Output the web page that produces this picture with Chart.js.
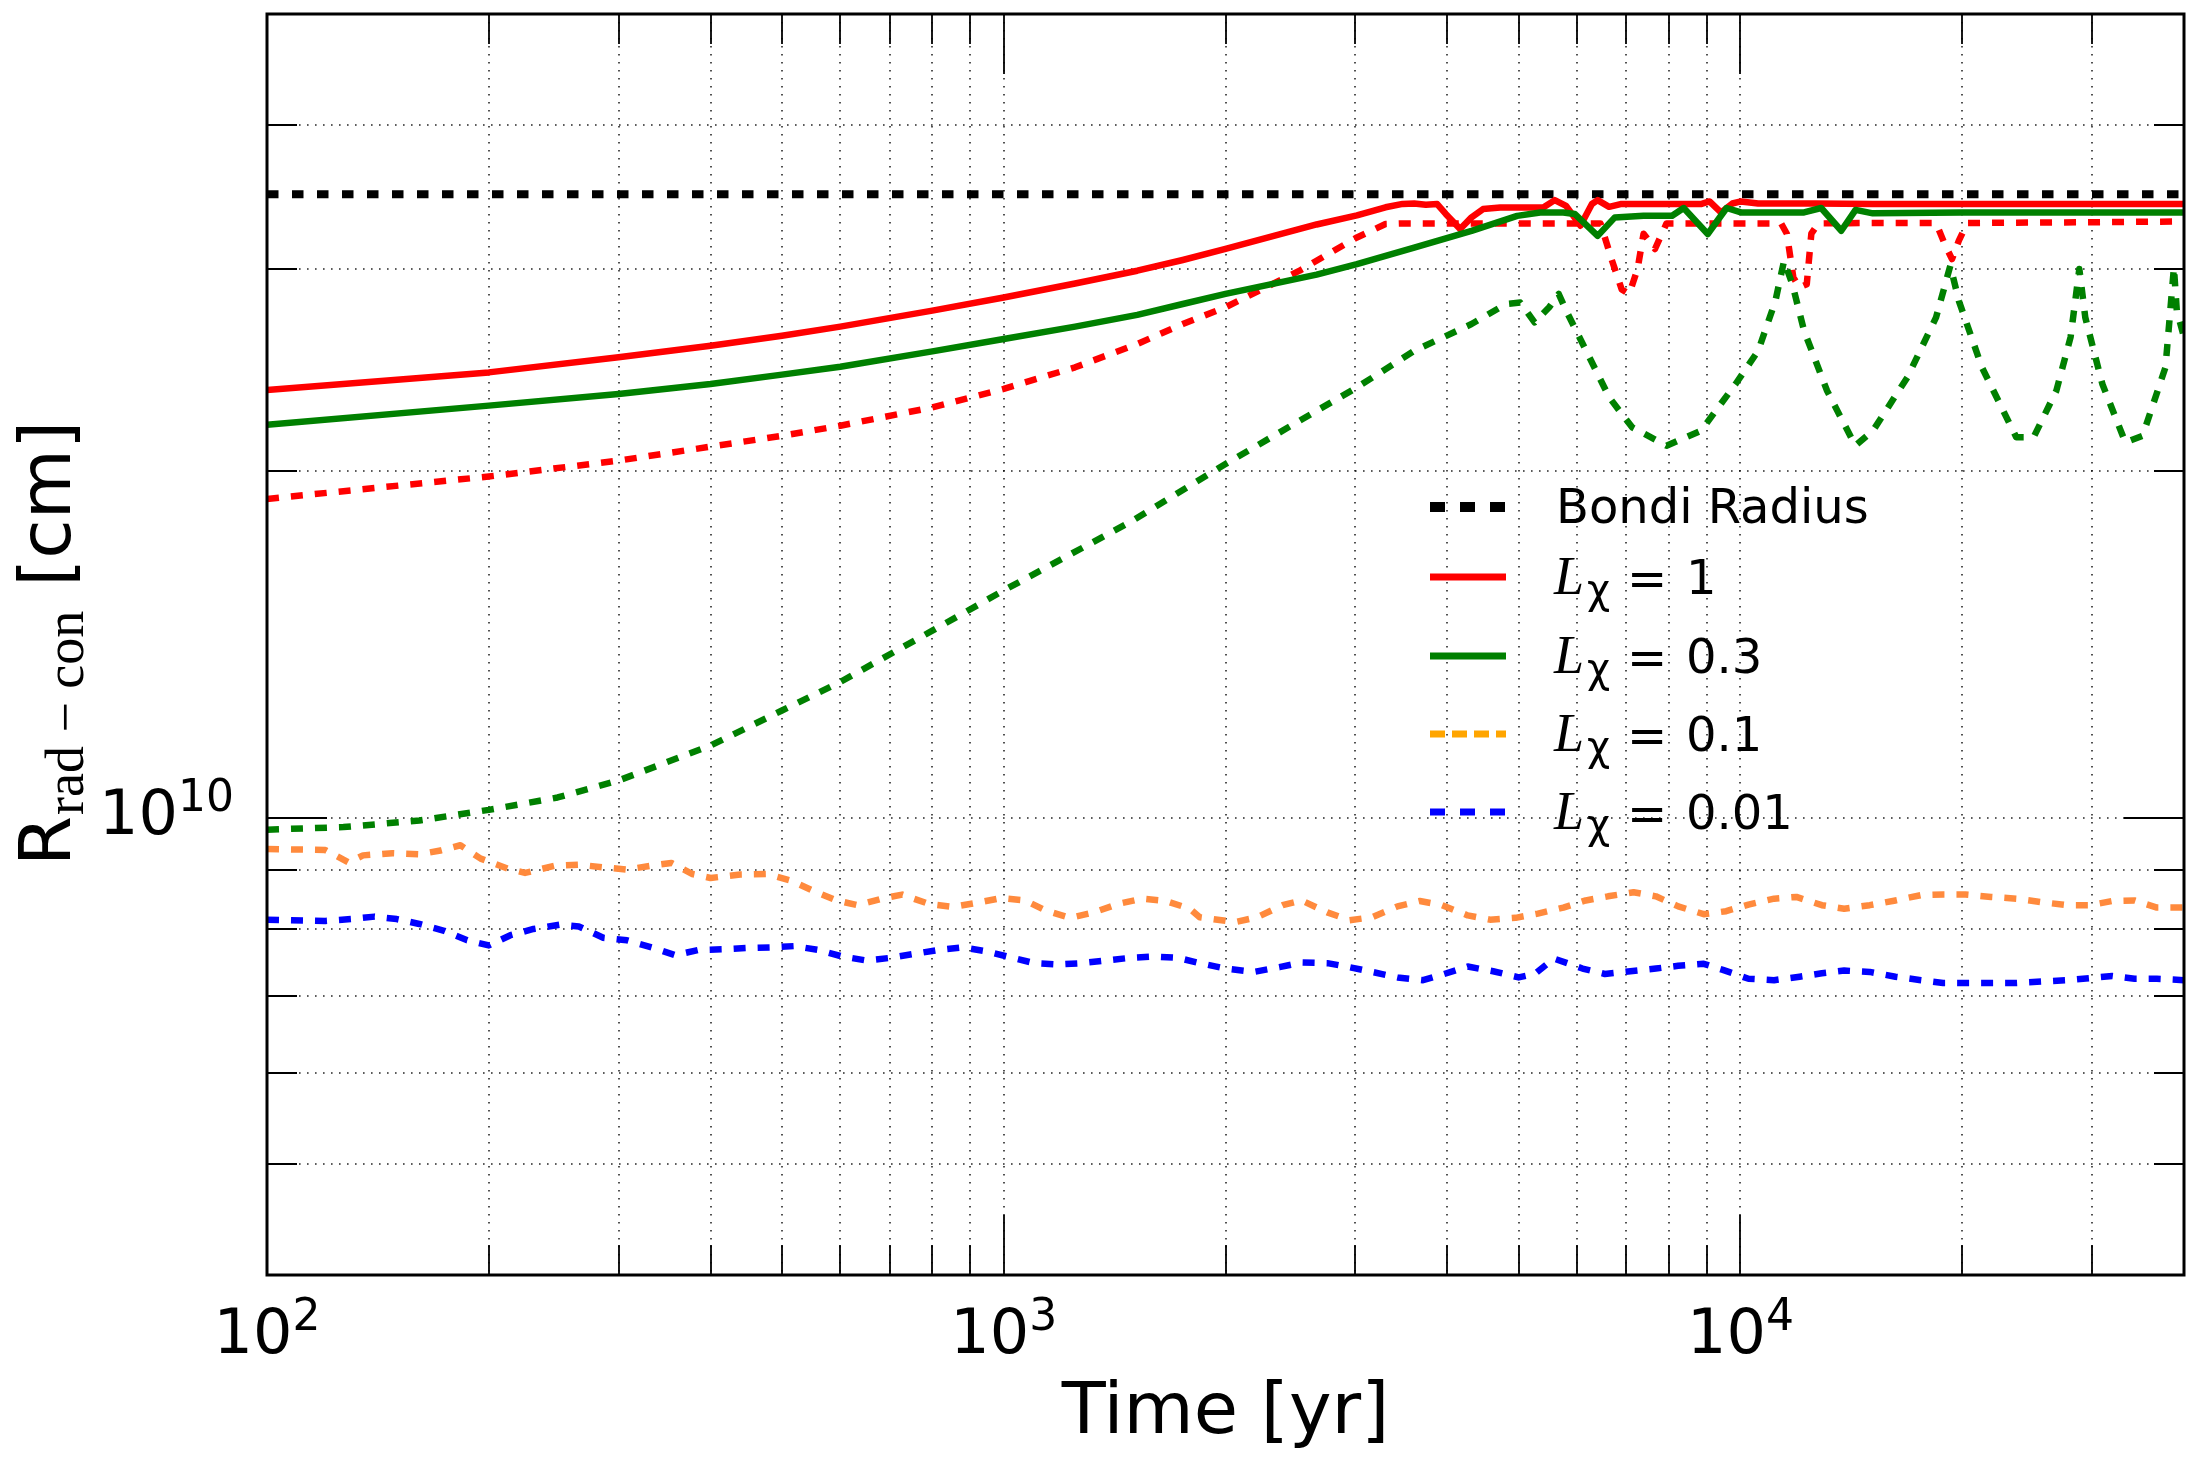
<!DOCTYPE html>
<html>
<head>
<meta charset="utf-8">
<title>Rrad-con vs time</title>
<script src="https://cdn.jsdelivr.net/npm/chart.js@4.4.1/dist/chart.umd.min.js"></script>
<style>
  html, body { margin: 0; padding: 0; background: #fff; }
  canvas { display: block; }
</style>
</head>
<body>
<canvas id="chart" width="2201" height="1463"></canvas>
<script>
// ---------------------------------------------------------------------------
// Data. Time in yr, radii in units of 1e10 cm.
// ---------------------------------------------------------------------------
const timeBondi = [100, 40000];
const rBondi    = [3.485, 3.485];

// L_chi = 1, solid
const timeL1 = [100, 200, 300, 400, 500, 600, 800, 1000, 1250, 1518, 1750, 2000, 2659,
                3016, 3298, 3479, 3607, 3740, 3876, 3981, 4164, 4315, 4473, 4720,
                5162, 5399, 5596, 5799, 6064, 6286, 6400, 6633, 6875, 7386,
                8077, 8835, 9078, 9408, 9750, 10016, 10568, 12643, 15124, 20000, 30000, 40000];
const rL1    = [2.355, 2.439, 2.514, 2.573, 2.625, 2.673, 2.76, 2.834, 2.914, 2.99, 3.055, 3.123, 3.28,
                3.34, 3.395, 3.418, 3.421, 3.412, 3.417, 3.35, 3.25, 3.327, 3.383, 3.394,
                3.394, 3.394, 3.444, 3.405, 3.272, 3.417, 3.444, 3.398, 3.417, 3.417,
                3.417, 3.417, 3.435, 3.36, 3.421, 3.435, 3.421, 3.421, 3.417, 3.417, 3.417, 3.417];

// L_chi = 1, dashed
const timeL1d = [100, 200, 300, 400, 500, 600, 800, 1000, 1250, 1518, 1750, 2000,
                 2521, 2757, 3016, 3298, 3500, 4500, 5500, 6457,
                 6695, 6900, 7063, 7250, 7387, 7656, 7937, 9000, 10000, 11357,
                 11561, 11798, 12020, 12303, 12480, 12758, 15000, 18430,
                 18930, 19370, 19790, 20320, 30000, 40000];
const rL1d    = [1.893, 1.98, 2.044, 2.102, 2.148, 2.192, 2.274, 2.36, 2.464, 2.582, 2.687, 2.779,
                 2.99, 3.092, 3.196, 3.283, 3.287, 3.287, 3.287, 3.287,
                 3.05, 2.88, 2.854, 3.0, 3.22, 3.123, 3.287, 3.287, 3.287, 3.287,
                 3.22, 2.95, 2.891, 2.91, 3.22, 3.287, 3.29, 3.29,
                 3.155, 3.06, 3.176, 3.29, 3.295, 3.3];

// L_chi = 0.3, solid
const timeL03 = [100, 200, 300, 400, 500, 600, 800, 1000, 1250, 1518, 1750, 2000,
                 2659, 3016, 3607, 4315, 4977, 5348, 5749, 5957, 6400, 6753, 7386, 8077,
                 8374, 9028, 9576, 10016, 12200, 12870, 13705, 14330, 15124, 20000, 30000, 40000];
const rL03    = [2.196, 2.282, 2.336, 2.383, 2.428, 2.467, 2.544, 2.608, 2.673, 2.737, 2.797, 2.854,
                 2.967, 3.03, 3.132, 3.238, 3.337, 3.36, 3.36, 3.35, 3.206, 3.327, 3.338, 3.338,
                 3.39, 3.218, 3.39, 3.36, 3.36, 3.39, 3.239, 3.377, 3.354, 3.36, 3.36, 3.36];

// L_chi = 0.3, dashed
const timeL03d = [100, 127, 161, 200, 248, 300, 400, 500, 600, 800, 1000,
                  1500, 2000, 2521, 3017, 3608, 4315, 4806, 5025, 5255, 5500, 5667, 5800,
                  6174, 6636, 7128, 7937, 8841, 9849, 10570, 11156, 11460, 11762, 12200, 13109,
                  14320, 15130, 16850, 18430, 19270, 19790, 21270, 23680, 25000, 26840, 28060, 28840,
                  29380, 30990, 33300, 35140, 37750, 38760, 39110, 40000];
const rL03d    = [0.976, 0.981, 0.994, 1.0155, 1.041, 1.077, 1.155, 1.239, 1.312, 1.454, 1.576,
                  1.814, 2.03, 2.214, 2.367, 2.547, 2.687, 2.797, 2.805, 2.696, 2.779, 2.854, 2.76,
                  2.547, 2.32, 2.185, 2.106, 2.17, 2.383, 2.547, 2.815, 3.05, 2.91, 2.651, 2.351,
                  2.106, 2.17, 2.415, 2.723, 3.02, 2.815, 2.464, 2.142, 2.142, 2.351, 2.617, 3.0,
                  2.723, 2.383, 2.12, 2.148, 2.464, 3.01, 2.76, 2.617];

// L_chi = 0.1, dashed
const timeL01 = [100, 120, 129, 135, 148, 161, 172, 183, 195, 212, 224, 246, 265, 286, 308, 332, 354, 378, 400, 439,
                 478, 515, 550, 593, 633, 688, 728, 792, 854, 929, 992, 1069, 1141, 1230, 1326, 1429, 1541, 1661, 1789, 1845,
                 2059, 2208, 2391, 2537, 2749, 2948, 3162, 3424, 3671, 3936, 4264, 4571, 4952, 5309, 5750, 6166, 6611, 7161, 7678, 8232,
                 8916, 9563, 10254, 11108, 11910, 12898, 13830, 14980, 16230, 17580, 18840, 20200, 21880, 23700, 25670, 27790, 29810,
                 31960, 34270, 36750, 40000];
const rL01    = [0.939, 0.937, 0.914, 0.927, 0.931, 0.929, 0.936, 0.946, 0.921, 0.903, 0.895, 0.908, 0.910, 0.905, 0.901, 0.908, 0.913, 0.893, 0.886, 0.892,
                 0.893, 0.881, 0.864, 0.847, 0.839, 0.851, 0.857, 0.841, 0.836, 0.844, 0.851, 0.847, 0.830, 0.818, 0.827, 0.841, 0.850, 0.846, 0.833, 0.819,
                 0.811, 0.819, 0.839, 0.847, 0.827, 0.814, 0.819, 0.837, 0.846, 0.839, 0.822, 0.815, 0.818, 0.825, 0.835, 0.847, 0.854, 0.861, 0.854, 0.837,
                 0.824, 0.829, 0.840, 0.850, 0.853, 0.839, 0.833, 0.839, 0.847, 0.856, 0.857, 0.857, 0.853, 0.850, 0.844, 0.839, 0.839,
                 0.846, 0.847, 0.835, 0.835];

// L_chi = 0.01, dashed
const timeL001 = [100, 120, 130, 140, 150, 161, 174, 187, 200, 214, 230, 250, 265, 286, 308, 335, 358, 385, 415, 447,
                  482, 520, 560, 604, 651, 702, 756, 815, 878, 946, 1020, 1100, 1185, 1277, 1377, 1484, 1599, 1723, 1845, 2000,
                  2185, 2367, 2537, 2749, 2948, 3162, 3424, 3708, 3936, 4264, 4617, 5000, 5256, 5581, 6104, 6546, 7088, 7678, 8232, 8916,
                  9467, 10254, 11108, 12030, 12898, 13830, 14980, 16230, 17580, 18840, 20200, 21880, 23700, 25670, 27790, 29810,
                  31960, 34270, 36750, 40000];
const rL001    = [0.815, 0.813, 0.816, 0.820, 0.816, 0.808, 0.797, 0.782, 0.774, 0.790, 0.800, 0.807, 0.804, 0.786, 0.782, 0.770, 0.759, 0.767, 0.768, 0.770,
                  0.771, 0.773, 0.767, 0.757, 0.751, 0.755, 0.761, 0.767, 0.771, 0.765, 0.756, 0.747, 0.745, 0.747, 0.751, 0.755, 0.757, 0.755, 0.747, 0.739,
                  0.734, 0.741, 0.748, 0.747, 0.741, 0.734, 0.726, 0.722, 0.730, 0.742, 0.735, 0.726, 0.731, 0.754, 0.739, 0.731, 0.735, 0.739, 0.743, 0.746,
                  0.737, 0.724, 0.722, 0.727, 0.732, 0.736, 0.734, 0.727, 0.722, 0.718, 0.718, 0.718, 0.718, 0.720, 0.722, 0.725,
                  0.728, 0.724, 0.724, 0.722];

// axis ticks
const xMajorTicks = [100, 1000, 10000];
const xMinorTicks = [200, 300, 400, 500, 600, 700, 800, 900, 2000, 3000, 4000, 5000, 6000, 7000, 8000, 9000, 20000, 30000];
const xTickExp    = ['2', '3', '4'];
const yMajorTicks = [1e10];
const yMinorTicks = [5e9, 6e9, 7e9, 8e9, 9e9, 2e10, 3e10, 4e10];
const yTickExp    = ['10'];

const UNIT = 1e10;
const pts = (t, r) => t.map((v, i) => ({ x: v, y: r[i] * UNIT }));

const SANS = '"DejaVu Sans", "Liberation Sans", sans-serif';
const SERIF = '"Liberation Serif", "DejaVu Serif", serif';
const ORANGE = '#ff8a3d';

// plotted in matplotlib order: later series on top
const series = [
    { data: pts(timeBondi, rBondi), color: '#000000', width: 8,   dash: [11.5, 13.5] },
    { data: pts(timeL1, rL1),       color: '#ff0000', width: 6.5, dash: [] },
    { data: pts(timeL1d, rL1d),     color: '#ff0000', width: 6.5, dash: [12, 12] },
    { data: pts(timeL03, rL03),     color: '#008000', width: 6.5, dash: [] },
    { data: pts(timeL03d, rL03d),   color: '#008000', width: 6.5, dash: [12, 12] },
    { data: pts(timeL01, rL01),     color: ORANGE,    width: 6.5, dash: [12, 12] },
    { data: pts(timeL001, rL001),   color: '#0000ff', width: 6.5, dash: [12, 12] }
];

// legend entries (the dashed L=1 / L=0.3 curves have none)
const legendItems = [
    { label: 'Bondi Radius', color: '#000000', width: 10,  dash: [15, 15], cy: 507 },
    { value: '1',            color: '#ff0000', width: 7,   dash: [],       cy: 577 },
    { value: '0.3',          color: '#008000', width: 7,   dash: [],       cy: 656 },
    { value: '0.1',          color: '#ffa500', width: 7,   dash: [15, 7],  cy: 734 },
    { value: '0.01',         color: '#0000ff', width: 7,   dash: [15, 15], cy: 812 }
];

// ---------------------------------------------------------------------------
// Grid, inward ticks, frame, tick labels, axis titles and legend
// ---------------------------------------------------------------------------
function drawPow(ctx, exp, x, baseline, align) {
    ctx.font = '62px ' + SANS;
    const wb = ctx.measureText('10').width;
    ctx.font = '44px ' + SANS;
    const we = ctx.measureText(exp).width;
    const total = wb + we;
    let x0 = align === 'center' ? x - total / 2 : x - total;
    ctx.textAlign = 'left';
    ctx.textBaseline = 'alphabetic';
    ctx.font = '62px ' + SANS;
    ctx.fillText('10', x0, baseline);
    ctx.font = '44px ' + SANS;
    ctx.fillText(exp, x0 + wb, baseline - 23);
}

const framePlugin = {
    id: 'framePlugin',
    beforeDatasetsDraw(chart) {
        const { ctx, chartArea: a, scales: { x, y } } = chart;
        ctx.save();
        ctx.strokeStyle = 'rgba(0,0,0,0.85)';
        ctx.lineWidth = 1.6;
        ctx.setLineDash([1.6, 6.4]);
        xMajorTicks.concat(xMinorTicks).forEach(v => {
            const px = Math.round(x.getPixelForValue(v));
            if (px <= a.left + 1 || px >= a.right - 1) return;
            ctx.beginPath(); ctx.moveTo(px, a.top); ctx.lineTo(px, a.bottom); ctx.stroke();
        });
        yMajorTicks.concat(yMinorTicks).forEach(v => {
            const py = Math.round(y.getPixelForValue(v));
            if (py <= a.top + 1 || py >= a.bottom - 1) return;
            ctx.beginPath(); ctx.moveTo(a.left, py); ctx.lineTo(a.right, py); ctx.stroke();
        });
        ctx.restore();
    },
    afterDatasetsDraw(chart) {
        const { ctx, chartArea: a, scales: { x, y } } = chart;
        ctx.save();
        ctx.setLineDash([]);
        ctx.strokeStyle = '#000';
        ctx.lineWidth = 1.8;
        const tickX = (v, len) => {
            const px = Math.round(x.getPixelForValue(v));
            if (px <= a.left + 1 || px >= a.right - 1) return;
            ctx.beginPath();
            ctx.moveTo(px, a.bottom); ctx.lineTo(px, a.bottom - len);
            ctx.moveTo(px, a.top); ctx.lineTo(px, a.top + len);
            ctx.stroke();
        };
        const tickY = (v, len) => {
            const py = Math.round(y.getPixelForValue(v));
            if (py <= a.top + 1 || py >= a.bottom - 1) return;
            ctx.beginPath();
            ctx.moveTo(a.left, py); ctx.lineTo(a.left + len, py);
            ctx.moveTo(a.right, py); ctx.lineTo(a.right - len, py);
            ctx.stroke();
        };
        xMajorTicks.forEach(v => tickX(v, 60));
        xMinorTicks.forEach(v => tickX(v, 30));
        yMajorTicks.forEach(v => tickY(v, 60));
        yMinorTicks.forEach(v => tickY(v, 30));

        // frame
        ctx.lineWidth = 3;
        ctx.strokeRect(a.left, a.top, a.right - a.left, a.bottom - a.top);

        // tick labels
        ctx.fillStyle = '#000';
        xMajorTicks.forEach((v, i) => drawPow(ctx, xTickExp[i], x.getPixelForValue(v), 1353, 'center'));
        yMajorTicks.forEach((v, i) => drawPow(ctx, yTickExp[i], 234, y.getPixelForValue(v) + 16, 'right'));

        // x title
        ctx.font = '72px ' + SANS;
        ctx.textAlign = 'center';
        ctx.textBaseline = 'alphabetic';
        ctx.fillText('Time [yr]', (a.left + a.right) / 2, 1433);

        // y title: R_{rad-con} [cm], rotated
        ctx.save();
        ctx.translate(70, (a.top + a.bottom) / 2);
        ctx.rotate(-Math.PI / 2);
        ctx.textAlign = 'left';
        ctx.font = '72px ' + SANS;
        const wR = ctx.measureText('R').width;
        const wU = ctx.measureText(' [cm]').width;
        ctx.font = '54px ' + SERIF;
        const wS = ctx.measureText('rad \u2212 con').width;
        let cx = -(wR + wS + wU) / 2;
        ctx.font = '72px ' + SANS;
        ctx.fillText('R', cx, 0);
        ctx.font = '54px ' + SERIF;
        ctx.fillText('rad \u2212 con', cx + wR + 1, 13);
        ctx.font = '72px ' + SANS;
        ctx.fillText(' [cm]', cx + wR + wS + 2, 0);
        ctx.restore();

        // legend
        legendItems.forEach(it => {
            ctx.strokeStyle = it.color;
            ctx.lineWidth = it.width;
            ctx.lineCap = 'butt';
            ctx.setLineDash(it.dash);
            ctx.beginPath(); ctx.moveTo(1430, it.cy); ctx.lineTo(1506, it.cy); ctx.stroke();
            ctx.setLineDash([]);
            ctx.fillStyle = '#000';
            ctx.textAlign = 'left';
            if (it.label) {
                ctx.font = '48px ' + SANS;
                ctx.fillText(it.label, 1556, it.cy + 16);
            } else {
                ctx.font = 'italic 54px ' + SERIF;
                ctx.fillText('L', 1554, it.cy + 17);
                ctx.font = '40px ' + SANS;
                ctx.fillText('\u03c7', 1587, it.cy + 26);
                ctx.font = '48px ' + SANS;
                ctx.fillText('=', 1627, it.cy + 18);
                ctx.fillText(it.value, 1686, it.cy + 17);
            }
        });
        ctx.restore();
    }
};

new Chart(document.getElementById('chart').getContext('2d'), {
    type: 'line',
    data: {
        datasets: series.map((s, i) => ({
            data: s.data,
            borderColor: s.color,
            borderWidth: s.width,
            borderDash: s.dash,
            borderCapStyle: 'butt',
            borderJoinStyle: 'round',
            pointRadius: 0,
            tension: 0,
            fill: false,
            order: series.length - i
        }))
    },
    options: {
        responsive: false,
        animation: false,
        devicePixelRatio: 1,
        layout: { padding: { left: 0, right: 17, top: 14, bottom: 0 } },
        scales: {
            x: {
                type: 'logarithmic', min: 100, max: 40000,
                ticks: { display: false }, grid: { display: false }, border: { display: false },
                afterFit: s => { s.height = 188; }
            },
            y: {
                type: 'logarithmic', min: 4e9, max: 5e10,
                ticks: { display: false }, grid: { display: false }, border: { display: false },
                afterFit: s => { s.width = 267; }
            }
        },
        plugins: { legend: { display: false }, tooltip: { enabled: false } }
    },
    plugins: [framePlugin]
});
</script>
</body>
</html>
